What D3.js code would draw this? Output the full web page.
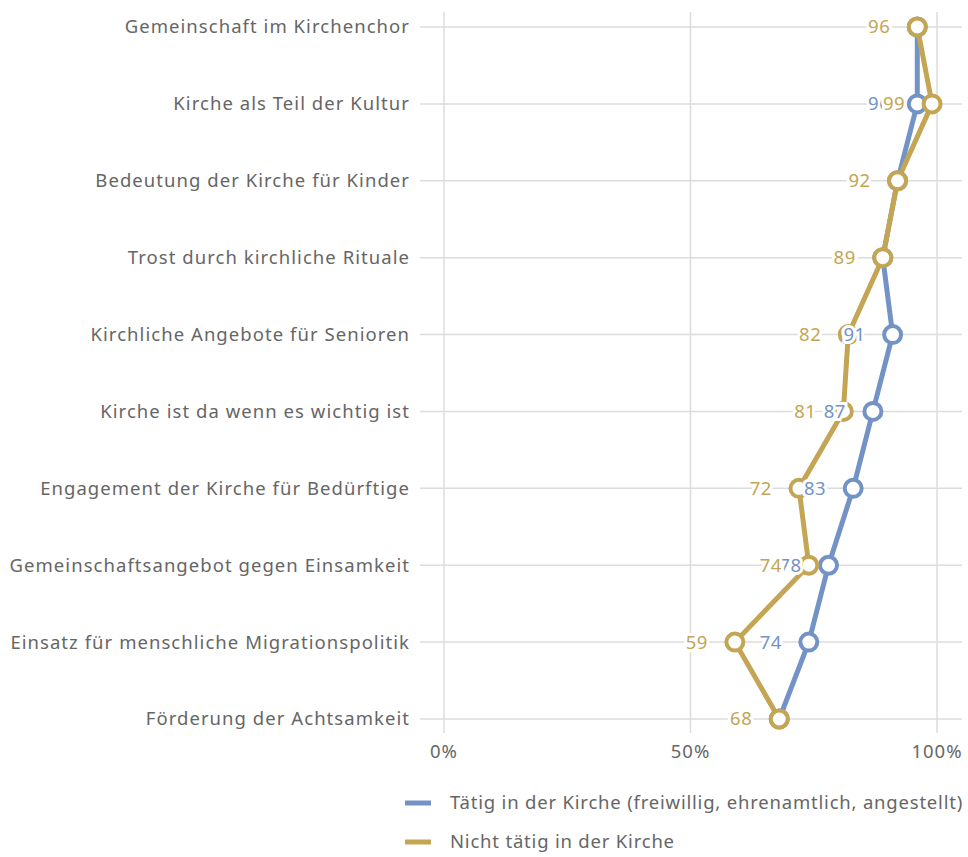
<!DOCTYPE html>
<html>
<head>
<meta charset="utf-8">
<script src="https://cdn.jsdelivr.net/npm/d3@7"></script>
<style>
  body { margin: 0; background: #fff; }
  text { font-family: "Noto Sans", sans-serif; }
</style>
</head>
<body>
<svg id="chart" width="968" height="857"></svg>
<script>
const categories = [
  'Gemeinschaft im Kirchenchor',
  'Kirche als Teil der Kultur',
  'Bedeutung der Kirche für Kinder',
  'Trost durch kirchliche Rituale',
  'Kirchliche Angebote für Senioren',
  'Kirche ist da wenn es wichtig ist',
  'Engagement der Kirche für Bedürftige',
  'Gemeinschaftsangebot gegen Einsamkeit',
  'Einsatz für menschliche Migrationspolitik',
  'Förderung der Achtsamkeit'
]
const taetig = [96, 96, 92, 89, 91, 87, 83, 78, 74, 68]
const nichtTaetig = [96, 99, 92, 89, 82, 81, 72, 74, 59, 68]
const xTicks = [0, 50, 100]

const seriesList = [
  { name: 'Tätig in der Kirche (freiwillig, ehrenamtlich, angestellt)', values: taetig, color: '#7393c6' },
  { name: 'Nicht tätig in der Kirche', values: nichtTaetig, color: '#c4a553' }
]

const fontSize = 18.5
const svg = d3.select('#chart')
const x = d3.scaleLinear().domain([0, 100]).range([444, 937])
const y = d3.scalePoint().domain(categories).range([27, 719])

// grid
svg.append('g').selectAll('line.h')
  .data(categories).join('line')
  .attr('x1', 420).attr('x2', 962)
  .attr('y1', d => y(d)).attr('y2', d => y(d))
  .attr('stroke', '#dcdcdc').attr('stroke-width', 1.5)

svg.append('g').selectAll('line.v')
  .data(xTicks).join('line')
  .attr('x1', d => x(d)).attr('x2', d => x(d))
  .attr('y1', 12).attr('y2', 733)
  .attr('stroke', '#dcdcdc').attr('stroke-width', 1.5)

// axes labels
svg.append('g').selectAll('text')
  .data(categories).join('text')
  .attr('x', 410).attr('y', d => y(d))
  .attr('dy', '0.35em')
  .attr('text-anchor', 'end')
  .attr('font-size', fontSize)
  .attr('letter-spacing', 1.05)
  .attr('fill', '#666')
  .text(d => d)

svg.append('g').selectAll('text')
  .data(xTicks).join('text')
  .attr('x', d => x(d)).attr('y', 752)
  .attr('dy', '0.35em')
  .attr('text-anchor', 'middle')
  .attr('font-size', fontSize)
  .attr('letter-spacing', 1)
  .attr('fill', '#666')
  .text(d => d + '%')

// lines
const line = d3.line()
  .x(d => x(d.v))
  .y(d => y(d.c))

seriesList.forEach(s => {
  svg.append('path')
    .datum(s.values.map((v, i) => ({ v, c: categories[i] })))
    .attr('d', line)
    .attr('fill', 'none')
    .attr('stroke', s.color)
    .attr('stroke-width', 5)
    .attr('stroke-linejoin', 'round')
})

seriesList.forEach(s => {
  svg.append('g').selectAll('circle')
    .data(s.values).join('circle')
    .attr('cx', d => x(d))
    .attr('cy', (d, i) => y(categories[i]))
    .attr('r', 8.5)
    .attr('fill', '#fff')
    .attr('stroke', s.color)
    .attr('stroke-width', 4)
})

seriesList.forEach(s => {
  svg.append('g').selectAll('text')
    .data(s.values).join('text')
    .attr('x', d => x(d) - 27)
    .attr('y', (d, i) => y(categories[i]))
    .attr('dy', '0.35em')
    .attr('text-anchor', 'end')
    .attr('font-size', fontSize)
    .attr('letter-spacing', 0.5)
    .attr('fill', s.color)
    .attr('stroke', '#fff')
    .attr('stroke-width', 6)
    .attr('paint-order', 'stroke')
    .text(d => d)
})

// legend
const legend = svg.append('g')
seriesList.forEach((s, i) => {
  const ly = 803 + i * 39
  legend.append('line')
    .attr('x1', 405).attr('x2', 431)
    .attr('y1', ly).attr('y2', ly)
    .attr('stroke', s.color).attr('stroke-width', 5)
  legend.append('text')
    .attr('x', 450).attr('y', ly)
    .attr('dy', '0.35em')
    .attr('font-size', fontSize)
    .attr('letter-spacing', 0.8)
    .attr('fill', '#666')
    .text(s.name)
})
</script>
</body>
</html>
